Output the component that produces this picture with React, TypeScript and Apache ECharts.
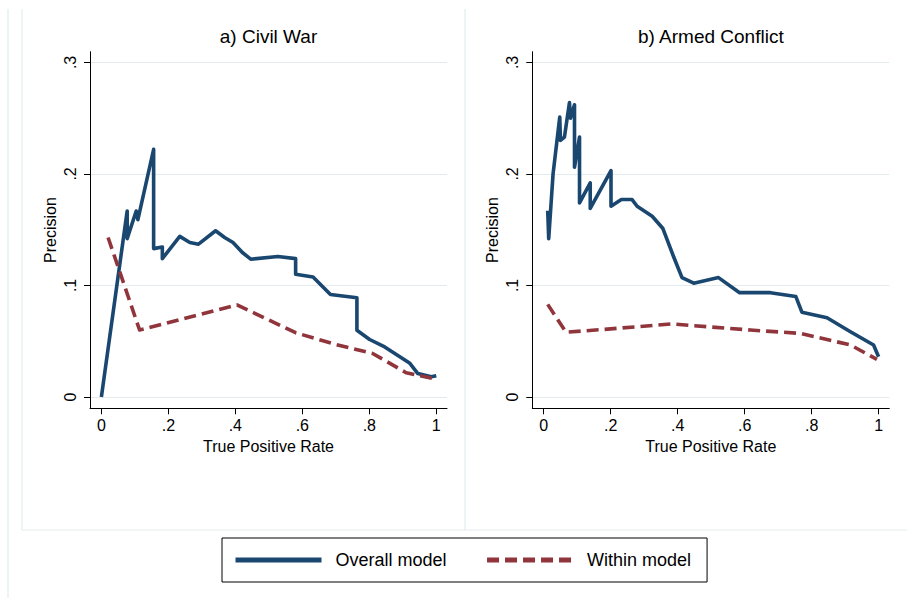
import React, { useEffect, useRef } from 'react';
import * as echarts from 'echarts';

// ---- tick definitions ----
const xTickValues = [0, 0.2, 0.4, 0.6, 0.8, 1];
const xTickLabels = ['0', '.2', '.4', '.6', '.8', '1'];
const yTickValues = [0, 0.1, 0.2, 0.3];
const yTickLabels = ['0', '.1', '.2', '.3'];

const panelTitles = ['a) Civil War', 'b) Armed Conflict'];
const seriesNames = ['Overall model', 'Within model'];
const xAxisTitle = 'True Positive Rate';
const yAxisTitle = 'Precision';

// ---- a) Civil War ----
const civilOverallTPR = [0, 0.077, 0.077, 0.104, 0.109, 0.156, 0.156, 0.182, 0.182, 0.234, 0.264, 0.29, 0.341, 0.368, 0.393, 0.421, 0.446, 0.527, 0.58, 0.58, 0.632, 0.684, 0.763, 0.763, 0.801, 0.846, 0.92, 0.945, 0.985, 1.0];
const civilOverallPrec = [0, 0.1667, 0.142, 0.1667, 0.159, 0.222, 0.133, 0.1345, 0.124, 0.144, 0.1385, 0.137, 0.149, 0.143, 0.1385, 0.1295, 0.1235, 0.126, 0.124, 0.11, 0.1076, 0.0918, 0.089, 0.0598, 0.0515, 0.0448, 0.0305, 0.021, 0.018, 0.019];
const civilWithinTPR = [0.02, 0.114, 0.405, 0.58, 0.7, 0.81, 0.91, 1.0];
const civilWithinPrec = [0.143, 0.06, 0.0825, 0.0576, 0.047, 0.039, 0.0217, 0.0158];

// ---- b) Armed Conflict ----
const armedOverallTPR = [0.012, 0.015, 0.028, 0.048, 0.05, 0.062, 0.077, 0.08, 0.092, 0.092, 0.107, 0.107, 0.139, 0.139, 0.201, 0.201, 0.232, 0.264, 0.279, 0.324, 0.356, 0.388, 0.413, 0.448, 0.522, 0.585, 0.677, 0.753, 0.771, 0.846, 0.916, 0.985, 1.0];
const armedOverallPrec = [0.167, 0.142, 0.2, 0.251, 0.23, 0.233, 0.264, 0.25, 0.262, 0.206, 0.233, 0.174, 0.192, 0.169, 0.203, 0.171, 0.177, 0.177, 0.171, 0.162, 0.151, 0.1257, 0.107, 0.102, 0.107, 0.0935, 0.0935, 0.09, 0.076, 0.071, 0.0585, 0.0466, 0.036];
const armedWithinTPR = [0.012, 0.067, 0.2, 0.38, 0.617, 0.766, 0.916, 0.995];
const armedWithinPrec = [0.083, 0.058, 0.061, 0.0655, 0.06, 0.057, 0.0466, 0.0337];

const NAVY = '#1a476f';
const MAROON = '#90353b';
const GRIDC = '#e3ebee';
const FONT = "'Liberation Sans', Arial, Helvetica, sans-serif";

const zip = (a: number[], b: number[]) => a.map((v, i) => [v, b[i]]);
const fmt = (vals: number[], labels: string[]) => (v: number) => {
  const i = vals.findIndex((t) => Math.abs(t - v) < 1e-9);
  return i >= 0 ? labels[i] : '';
};

export default function App() {
  const ref = useRef<HTMLDivElement>(null);
  useEffect(() => {
    if (!ref.current) return;
    const chart = echarts.init(ref.current, undefined, { renderer: 'svg' });
    const grids = [
      { left: 90, top: 51.7, width: 357, height: 356.6 },
      { left: 532.3, top: 51.7, width: 357, height: 356.6 },
    ];
    const titleCenters = [268.5, 710.8];
    const mkX = (i: number) => ({
      type: 'value',
      gridIndex: i,
      min: -0.034,
      max: 1.032,
      axisLine: { show: true, onZero: false, lineStyle: { color: '#000', width: 1 } },
      axisTick: { show: true, customValues: xTickValues, length: 6, lineStyle: { color: '#000', width: 1 } },
      axisLabel: { customValues: xTickValues, formatter: fmt(xTickValues, xTickLabels), margin: 9, fontSize: 16, color: '#000', fontFamily: FONT },
      splitLine: { show: false },
      name: xAxisTitle,
      nameLocation: 'middle',
      nameGap: 27,
      nameTextStyle: { fontSize: 16, color: '#000', fontFamily: FONT },
    });
    const mkY = (i: number) => ({
      type: 'value',
      gridIndex: i,
      min: -0.0102,
      max: 0.3096,
      axisLine: { show: true, onZero: false, lineStyle: { color: '#000', width: 1 } },
      axisTick: { show: true, customValues: yTickValues, length: 6, lineStyle: { color: '#000', width: 1 } },
      axisLabel: { customValues: yTickValues, formatter: fmt(yTickValues, yTickLabels), rotate: 90, margin: 12, fontSize: 16, color: '#000', fontFamily: FONT },
      splitLine: { show: true, lineStyle: { color: GRIDC, width: 1.2 } },
      name: yAxisTitle,
      nameLocation: 'middle',
      nameGap: 32,
      nameTextStyle: { fontSize: 16, color: '#000', fontFamily: FONT },
    });
    const mkLine = (name: string, i: number, data: number[][], color: string, dashed: boolean) => ({
      type: 'line',
      name,
      xAxisIndex: i,
      yAxisIndex: i,
      data,
      symbol: 'none',
      showSymbol: false,
      clip: false,
      lineStyle: { color, width: 3.6, type: dashed ? [12, 6] : 'solid', cap: 'butt', join: 'round' },
      itemStyle: { color },
      emphasis: { disabled: true },
    });
    const frame = { stroke: GRIDC, lineWidth: 1.2 };
    chart.setOption({
      animation: false,
      backgroundColor: '#fff',
      textStyle: { fontFamily: FONT },
      title: panelTitles.map((t, i) => ({
        text: t,
        left: titleCenters[i],
        top: 27,
        padding: 0,
        textAlign: 'center',
        textStyle: { fontSize: 19, fontWeight: 'normal', color: '#000', fontFamily: FONT },
      })),
      grid: grids,
      xAxis: [mkX(0), mkX(1)],
      yAxis: [mkY(0), mkY(1)],
      legend: {
        data: seriesNames,
        left: 222,
        top: 538,
        padding: [13, 16, 13, 11],
        itemGap: 38,
        itemWidth: 86,
        itemHeight: 16,
        borderColor: '#000',
        borderWidth: 1,
        itemStyle: { opacity: 0, borderWidth: 0 },
        lineStyle: { width: 5 },
        textStyle: { fontSize: 18, color: '#000', fontFamily: FONT, padding: [0, 0, 0, 9] },
        selectedMode: false,
      },
      graphic: [
        { type: 'line', shape: { x1: 8, y1: 9, x2: 8, y2: 598 }, style: frame, silent: true },
        { type: 'line', shape: { x1: 22, y1: 9, x2: 22, y2: 530 }, style: frame, silent: true },
        { type: 'line', shape: { x1: 465, y1: 9, x2: 465, y2: 530 }, style: frame, silent: true },
        { type: 'line', shape: { x1: 22, y1: 530, x2: 907, y2: 530 }, style: frame, silent: true },
      ],
      series: [
        mkLine(seriesNames[0], 0, zip(civilOverallTPR, civilOverallPrec), NAVY, false),
        mkLine(seriesNames[1], 0, zip(civilWithinTPR, civilWithinPrec), MAROON, true),
        mkLine(seriesNames[0], 1, zip(armedOverallTPR, armedOverallPrec), NAVY, false),
        mkLine(seriesNames[1], 1, zip(armedWithinTPR, armedWithinPrec), MAROON, true),
      ],
    });
    return () => chart.dispose();
  }, []);
  return <div ref={ref} style={{ position: 'absolute', left: 0, top: 0, width: 907, height: 598 }} />;
}
